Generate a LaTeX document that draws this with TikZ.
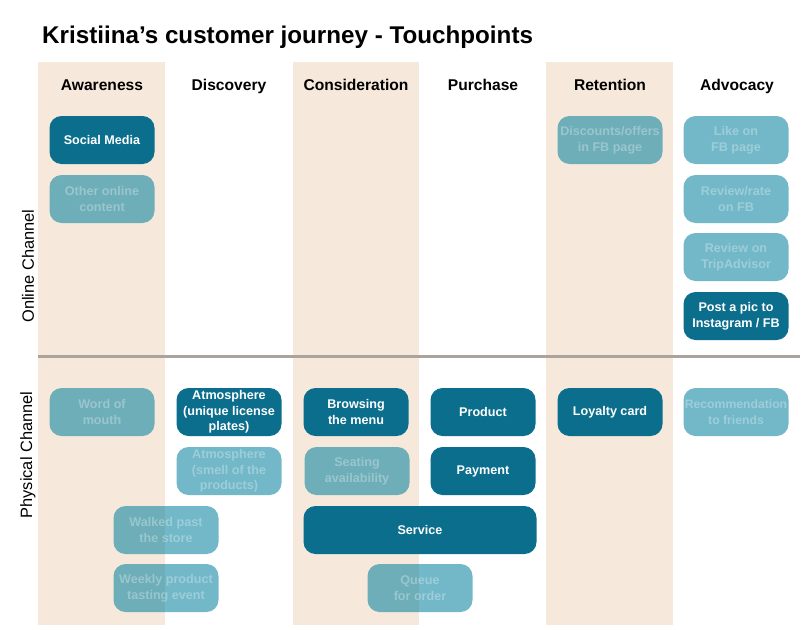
\documentclass[tikz,border=0pt]{standalone}
\usepackage{fontspec}
\setmainfont{Liberation Sans}
\definecolor{beige}{HTML}{F6E9DC}
\definecolor{tealdark}{HTML}{0A6E8C}
\definecolor{teallight}{HTML}{007F9B}
\definecolor{divider}{HTML}{ACA49C}
\begin{document}
\begin{tikzpicture}[x=1pt,y=-1pt,
  band/.style={fill=beige,draw=none},
  head/.style={font=\bfseries\fontsize{15.6}{18}\selectfont,anchor=base},
  side/.style={font=\fontsize{16.4}{19}\selectfont,rotate=90,anchor=center},
  tp/.style={rounded corners=12pt,minimum width=105pt,minimum height=48pt,
    align=center,inner sep=0pt,font=\bfseries\fontsize{12.6}{15.7}\selectfont},
  hot/.style={tp,fill=tealdark,text=white},
  faint/.style={tp,fill=teallight,fill opacity=0.55,text=white,text opacity=0.3}]

% canvas
\useasboundingbox (0,0) rectangle (802,629);
\fill[white] (0,0) rectangle (802,629);

% stage bands
\fill[band] (38,62) rectangle (165,625);
\fill[band] (293,62) rectangle (419,625);
\fill[band] (546,62) rectangle (673,625);

% title
\node[anchor=base west,inner sep=0pt,font=\bfseries\fontsize{24.2}{28}\selectfont] (title) at (42,43) {Kristiina’s customer journey - Touchpoints};

% stage headers
\node[head] (hAw) at (102,90) {Awareness};
\node[head] (hDi) at (229,90) {Discovery};
\node[head] (hCo) at (356,90) {Consideration};
\node[head] (hPu) at (483,90) {Purchase};
\node[head] (hRe) at (610,90) {Retention};
\node[head] (hAd) at (737,90) {Advocacy};

% channel divider
\coordinate (divL) at (38,356);
\coordinate (divR) at (800,356);
\draw[divider,line width=3pt] (divL) -- (divR);

% channel labels
\node[side] (online) at (28,266) {Online Channel};
\node[side] (physical) at (28,455) {Physical Channel};

% online touchpoints
\node[hot] (social) at (102,140) {Social Media};
\node[faint] (other) at (102,199) {Other online\\content};
\node[faint] (discounts) at (610,140) {Discounts/offers\\in FB page};
\node[faint] (like) at (736,140) {Like on\\FB page};
\node[faint] (rate) at (736,199) {Review/rate\\on FB};
\node[faint] (trip) at (736,257) {Review on\\TripAdvisor};
\node[hot] (post) at (736,316) {Post a pic to\\Instagram / FB};

% physical touchpoints
\node[faint] (word) at (102,412) {Word of\\mouth};
\node[hot] (atmo1) at (229,412) {Atmosphere\\(unique license\\plates)};
\node[faint] (atmo2) at (229,471) {Atmosphere\\(smell of the\\products)};
\node[faint] (walked) at (166,530) {Walked past\\the store};
\node[faint] (weekly) at (166,588) {Weekly product\\tasting event};
\node[hot] (browse) at (356,412) {Browsing\\the menu};
\node[faint] (seating) at (357,471) {Seating\\availability};
\node[hot] (product) at (483,412) {Product};
\node[hot] (payment) at (483,471) {Payment};
\node[hot,minimum width=233pt] (service) at (420,530) {Service};
\node[faint] (queue) at (420,588) {Queue\\for order};
\node[hot] (loyalty) at (610,412) {Loyalty card};
\node[faint,font=\bfseries\fontsize{12.2}{15.7}\selectfont] (recommend) at (736,412) {Recommendation\\to friends};
\end{tikzpicture}
\end{document}
